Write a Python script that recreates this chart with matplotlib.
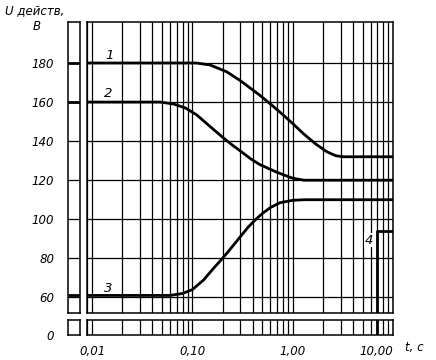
import matplotlib
matplotlib.use("Agg")
import matplotlib.pyplot as plt

# ---- data ----
t1 = [0.0089, 0.11, 0.15, 0.22, 0.3, 0.47, 0.6, 0.8, 1.0, 1.3, 1.7, 2.2, 2.7, 3.2, 10.0]
u1 = [180, 180, 179, 175.5, 171, 163.5, 159, 153.5, 149, 143.5, 138.5, 134.5, 132.5, 132, 132]
t2 = [0.0089, 0.048, 0.065, 0.085, 0.11, 0.15, 0.2, 0.25, 0.3, 0.38, 0.47, 0.7, 1.0, 1.3, 10.0]
u2 = [160, 160, 159, 157, 153.5, 147.5, 142, 138, 135, 131, 128, 124, 121, 120, 120]
t3 = [0.0089, 0.06, 0.08, 0.1, 0.13, 0.16, 0.2, 0.25, 0.3, 0.36, 0.43, 0.5, 0.6, 0.75, 1.0, 1.3, 10.0]
u3 = [61, 61, 62, 64, 69, 74.5, 80, 86, 91, 96, 100, 103, 106, 108.5, 109.7, 110, 110]
t4 = [7.0, 7.0, 10.0]
u4 = [0, 94, 94]
curve_labels = ["1", "2", "3", "4"]
label_t = [0.0151, 0.0144, 0.0144, 5.78]
label_u = [183.9, 164.5, 64.8, 89.3]
y_ticks = [60, 80, 100, 120, 140, 160, 180]
x_ticks = [0.01, 0.1, 1.0, 10.0]
x_ticklabels = ["0,01", "0,10", "1,00", "10,00"]

plt.rcParams['font.family'] = ['DejaVu Sans']
plt.rcParams['font.style'] = 'italic'
FS = 8.5
W, H = 436, 360

fig = plt.figure(figsize=(W / 100, H / 100), dpi=100)


def rect(x0, y0, x1, y1):
    return [x0 / W, 1 - y1 / H, (x1 - x0) / W, (y1 - y0) / H]


ax_tl = fig.add_axes(rect(68, 22, 80, 313))
ax_tr = fig.add_axes(rect(87, 22, 393, 313))
ax_bl = fig.add_axes(rect(68, 320, 80, 335))
ax_br = fig.add_axes(rect(87, 320, 393, 335))

LW_GRID = 0.9
LW_CURVE = 2.0

for ax in (ax_tl, ax_tr, ax_bl, ax_br):
    for s in ax.spines.values():
        s.set_linewidth(1.1)
        s.set_color('black')
    ax.tick_params(which='both', length=0)

# main upper
for t, u in ((t1, u1), (t2, u2), (t3, u3), (t4, u4)):
    ax_tr.plot(t, u, color='black', lw=LW_CURVE, solid_capstyle='butt',
               solid_joinstyle='round', zorder=3)
ax_tr.set_xscale('log')
ax_tr.set_xlim(0.0089, 10.0)
ax_tr.set_ylim(52, 201)
ax_tr.set_yticks(y_ticks)
ax_tr.set_yticklabels([])
ax_tr.set_xticks(x_ticks)
ax_tr.set_xticklabels([])
ax_tr.tick_params(which='minor', labelbottom=False)
ax_tr.grid(True, which='both', axis='x', color='black', lw=LW_GRID)
ax_tr.grid(True, which='major', axis='y', color='black', lw=LW_GRID)
for lab, lt, lu in zip(curve_labels, label_t, label_u):
    ax_tr.text(lt, lu, lab, fontsize=FS + 1, ha='center', va='center',
               bbox=dict(facecolor='white', edgecolor='none', pad=0.5) if lab == "4" else None,
               zorder=4)

# left upper strip (t = 0)
for u in (u1, u2, u3):
    ax_tl.plot([0, 1], [u[0], u[0]], color='black', lw=LW_CURVE, solid_capstyle='butt')
ax_tl.set_xlim(0, 1)
ax_tl.set_ylim(52, 201)
ax_tl.set_xticks([])
ax_tl.set_yticks(y_ticks)
ax_tl.set_yticklabels([str(v) for v in y_ticks], fontsize=FS)
ax_tl.tick_params(axis='y', pad=10)
ax_tl.grid(True, axis='y', color='black', lw=LW_GRID)

# main lower
ax_br.plot(t4, u4, color='black', lw=LW_CURVE, solid_capstyle='butt', zorder=3)
ax_br.set_xscale('log')
ax_br.set_xlim(0.0089, 10.0)
ax_br.set_ylim(0, 5)
ax_br.set_yticks([])
ax_br.set_xticks(x_ticks)
ax_br.set_xticklabels(x_ticklabels, fontsize=FS)
ax_br.tick_params(which='minor', labelbottom=False)
ax_br.tick_params(axis='x', pad=7)
ax_br.grid(True, which='both', axis='x', color='black', lw=LW_GRID)
for lbl in ax_br.get_xticklabels():
    if lbl.get_text() == "10,00":
        lbl.set_horizontalalignment('right')

# left lower strip
ax_bl.set_xlim(0, 1)
ax_bl.set_ylim(0, 5)
ax_bl.set_xticks([])
ax_bl.set_yticks([0])
ax_bl.set_yticklabels(["0"], fontsize=FS)
ax_bl.tick_params(axis='y', pad=10)

fig.text(5 / W, 1 - 11 / H, "U действ,", fontsize=FS, va='center', ha='left')
fig.text(33 / W, 1 - 26 / H, "В", fontsize=FS, va='center', ha='left')
fig.text(405 / W, 1 - 348 / H, "t, c", fontsize=FS, va='center', ha='left')

fig.savefig("out.png", dpi=100)
